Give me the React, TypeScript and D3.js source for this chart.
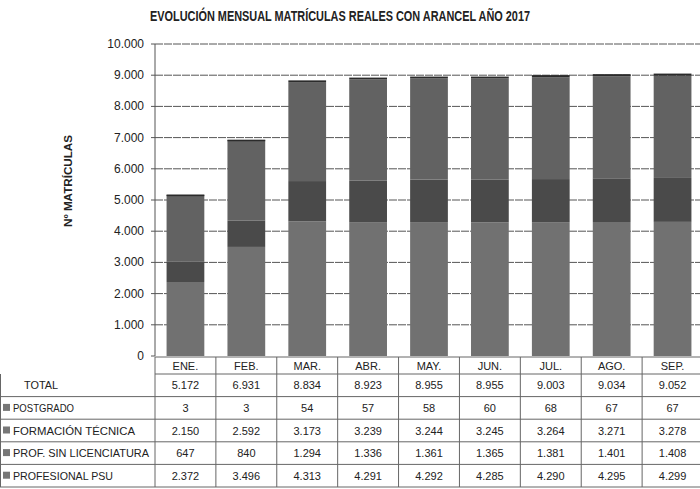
import React from "react";
import { scaleBand, scaleLinear, stack, formatLocale, range } from "d3";

// months and series
const months = ["ENE.", "FEB.", "MAR.", "ABR.", "MAY.", "JUN.", "JUL.", "AGO.", "SEP."];
const total = [5172, 6931, 8834, 8923, 8955, 8955, 9003, 9034, 9052];
const postgrado = [3, 3, 54, 57, 58, 60, 68, 67, 67];
const formacionTecnica = [2150, 2592, 3173, 3239, 3244, 3245, 3264, 3271, 3278];
const profSinLicenciatura = [647, 840, 1294, 1336, 1361, 1365, 1381, 1401, 1408];
const profesionalPsu = [2372, 3496, 4313, 4291, 4292, 4285, 4290, 4295, 4299];
const yTicks = [0, 1000, 2000, 3000, 4000, 5000, 6000, 7000, 8000, 9000, 10000];

const seriesColors = ["#717171", "#4a4a4a", "#626262", "#2b2b2b"];

const fmt = formatLocale({ decimal: ",", thousands: ".", grouping: [3], currency: ["$", ""] }).format(",d");

const font = "'Liberation Sans', sans-serif";

export default function App() {
  const width = 700;
  const height = 489;
  const left = 155;
  const right = 703;

  const x = scaleBand<string>().domain(months).range([left, right]).paddingInner(0.38).paddingOuter(0.19);
  const col = scaleBand<string>().domain(months).range([left, right]);
  const y = scaleLinear().domain([0, 10000]).range([356, 44]);

  const rows = months.map((m, i) => ({
    month: m,
    psu: profesionalPsu[i],
    sinLic: profSinLicenciatura[i],
    tecnica: formacionTecnica[i],
    post: postgrado[i],
  }));
  const keys = ["psu", "sinLic", "tecnica", "post"];
  const stacked = stack<any>().keys(keys)(rows);

  // table rows: header, total, then the legend rows top to bottom
  const headerTop = 357;
  const headerBottom = 374;
  const rowH = 22.6;
  const tableRows = [
    { label: "TOTAL", values: total, swatch: false, len: 34 },
    { label: "POSTGRADO", values: postgrado, swatch: true, len: 61 },
    { label: "FORMACIÓN TÉCNICA", values: formacionTecnica, swatch: true, len: 122 },
    { label: "PROF. SIN LICENCIATURA", values: profSinLicenciatura, swatch: true, len: 136 },
    { label: "PROFESIONAL PSU", values: profesionalPsu, swatch: true, len: 100 },
  ];
  const tableBottom = headerBottom + rowH * tableRows.length;

  return (
    <svg width={width} height={height} style={{ position: "absolute", left: 0, top: 0, background: "#fff" }} fontFamily={font}>
      <text x={150} y={21} fontSize={15} fontWeight="bold" fill="#222" textLength={380} lengthAdjust="spacingAndGlyphs">
        EVOLUCIÓN MENSUAL MATRÍCULAS REALES CON ARANCEL  AÑO 2017
      </text>

      <text transform="translate(72,181) rotate(-90)" textAnchor="middle" fontSize={11.5} fontWeight="bold" fill="#222" textLength={92} lengthAdjust="spacingAndGlyphs">
        Nº MATRÍCULAS
      </text>

      {/* gridlines and y ticks */}
      {yTicks.map((t) => (
        <g key={t}>
          {t > 0 && <line x1={left} x2={width} y1={y(t)} y2={y(t)} stroke="#555" strokeWidth={1} strokeDasharray="8 1" />}
          <line x1={left - 4} x2={left} y1={y(t)} y2={y(t)} stroke="#555" />
          <text x={left - 11} y={y(t) + 4} textAnchor="end" fontSize={12} fill="#222">
            {fmt(t)}
          </text>
        </g>
      ))}
      <line x1={left} x2={left} y1={y(10000)} y2={y(0)} stroke="#555" />

      {/* stacked bars */}
      {stacked.map((s, si) => (
        <g key={s.key} fill={seriesColors[si]}>
          {s.map((d, i) => (
            <rect key={i} x={x(months[i])} width={x.bandwidth()} y={y(d[1])} height={Math.max(y(d[0]) - y(d[1]), si === 3 ? 1.5 : 0)} />
          ))}
        </g>
      ))}

      {/* data table */}
      <g stroke="#666" strokeWidth={1} fill="none">
        <line x1={left} x2={right} y1={headerTop} y2={headerTop} />
        {range(tableRows.length + 1).map((r) => (
          <line key={r} x1={r === 0 ? left : 0} x2={right} y1={headerBottom + r * rowH} y2={headerBottom + r * rowH} />
        ))}
        <line x1={0.5} x2={0.5} y1={headerBottom} y2={tableBottom} />
        {months.map((m) => (
          <line key={m} x1={col(m)} x2={col(m)} y1={headerTop} y2={tableBottom} />
        ))}
        <line x1={right - 1} x2={right - 1} y1={headerTop} y2={tableBottom} />
      </g>
      {months.map((m) => (
        <text key={m} x={(col(m) as number) + col.bandwidth() / 2} y={headerTop + 12.5} textAnchor="middle" fontSize={11} fill="#222">
          {m}
        </text>
      ))}
      {tableRows.map((row, r) => {
        const cy = headerBottom + r * rowH + rowH / 2 + 4;
        return (
          <g key={row.label}>
            {row.swatch && <rect x={3} y={cy - 8} width={7} height={7} fill="#777" />}
            <text x={row.swatch ? 13 : 24} y={cy} fontSize={11.5} fill="#222" textLength={row.len} lengthAdjust="spacingAndGlyphs">
              {row.label}
            </text>
            {row.values.map((v, i) => (
              <text key={i} x={(col(months[i]) as number) + col.bandwidth() / 2} y={cy} textAnchor="middle" fontSize={11} fill="#222">
                {fmt(v)}
              </text>
            ))}
          </g>
        );
      })}
    </svg>
  );
}
